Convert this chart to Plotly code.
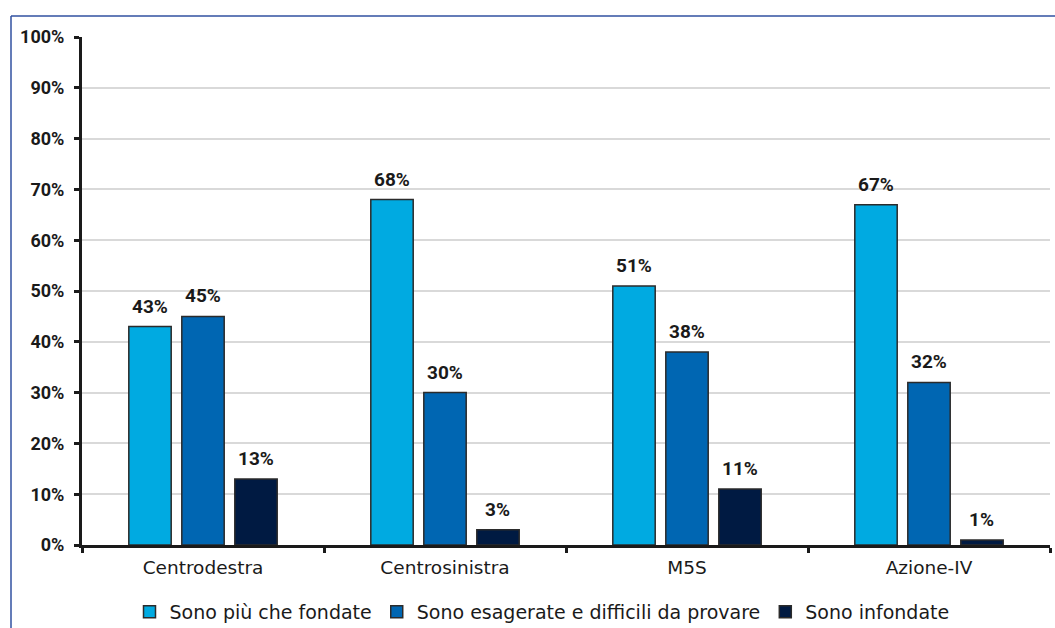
import plotly.graph_objects as go

categories = ["Centrodestra", "Centrosinistra", "M5S", "Azione-IV"]
series_names = ["Sono più che fondate", "Sono esagerate e difficili da provare", "Sono infondate"]
fondate = [43, 68, 51, 67]
esagerate = [45, 30, 38, 32]
infondate = [13, 3, 11, 1]
y_ticks = [0, 10, 20, 30, 40, 50, 60, 70, 80, 90, 100]
y_tick_labels = [f"{v}%" for v in y_ticks]

colors = ["#00AAE1", "#0066B2", "#001A42"]
series = [fondate, esagerate, infondate]

W, H = 1055, 628
L, R, T, B = 82, 5, 37, 83
plot_w = W - L - R
plot_h = H - T - B

FONT = "DejaVu Sans"
NUMFONT = "Roboto"

fig = go.Figure()
for name, vals, col in zip(series_names, series, colors):
    fig.add_trace(go.Bar(
        x=categories, y=vals, name=name,
        marker=dict(color=col, line=dict(color="#2B2B2B", width=1.5)),
    ))

bargap = 0.343
slot = (1 - bargap) * plot_w / len(categories) / 3
for i, vals in enumerate(series):
    for c, v in zip(categories, vals):
        fig.add_annotation(
            x=c, y=v, xref="x", yref="y", text=f"<b>{v}%</b>",
            showarrow=False, xshift=(i - 1) * slot, yshift=7,
            yanchor="bottom", font=dict(family=NUMFONT, size=19, color="#1A1A1A"),
        )

# outer frame (left and top border lines)
fx0 = (11 - L) / plot_w
fy_top = 1 + (T - 16) / plot_h
fig.add_shape(type="line", xref="paper", yref="paper", x0=fx0, x1=fx0, y0=-10, y1=fy_top,
              line=dict(color="#3050A0", width=1.5))
fig.add_shape(type="line", xref="paper", yref="paper", x0=fx0, x1=1 + 10 / plot_w, y0=fy_top, y1=fy_top,
              line=dict(color="#3050A0", width=1.5))

fig.update_layout(
    width=W, height=H,
    margin=dict(l=L, r=R, t=T, b=B, autoexpand=False),
    paper_bgcolor="white", plot_bgcolor="white",
    barmode="group", bargap=bargap, bargroupgap=0.2,
    font=dict(family=FONT, color="#1A1A1A"),
    showlegend=True,
    legend=dict(orientation="h", xref="container", yref="container",
                x=542 / W, xanchor="center", y=1 - 593 / H, yanchor="top",
                font=dict(family=FONT, size=19, color="#1A1A1A"),
                itemwidth=30, traceorder="normal"),
    xaxis=dict(
        showline=True, linecolor="#1A1A1A", linewidth=3,
        ticks="outside", tickson="boundaries", ticklen=5, tickwidth=3, tickcolor="#1A1A1A",
        ticklabelstandoff=4,
        tickfont=dict(family=FONT, size=18.5, color="#1A1A1A"),
        showgrid=False, automargin=False,
    ),
    yaxis=dict(
        range=[0, 100], tickvals=y_ticks, ticktext=[f"<b>{t}</b>" for t in y_tick_labels],
        showline=True, linecolor="#1A1A1A", linewidth=3,
        ticks="outside", ticklen=5, tickwidth=3, tickcolor="#1A1A1A",
        ticklabelstandoff=6,
        tickfont=dict(family=NUMFONT, size=18, color="#1A1A1A"),
        showgrid=True, gridcolor="#D9D9D9", gridwidth=1.5,
        zeroline=False, automargin=False,
    ),
)

fig.write_html("out.html")
